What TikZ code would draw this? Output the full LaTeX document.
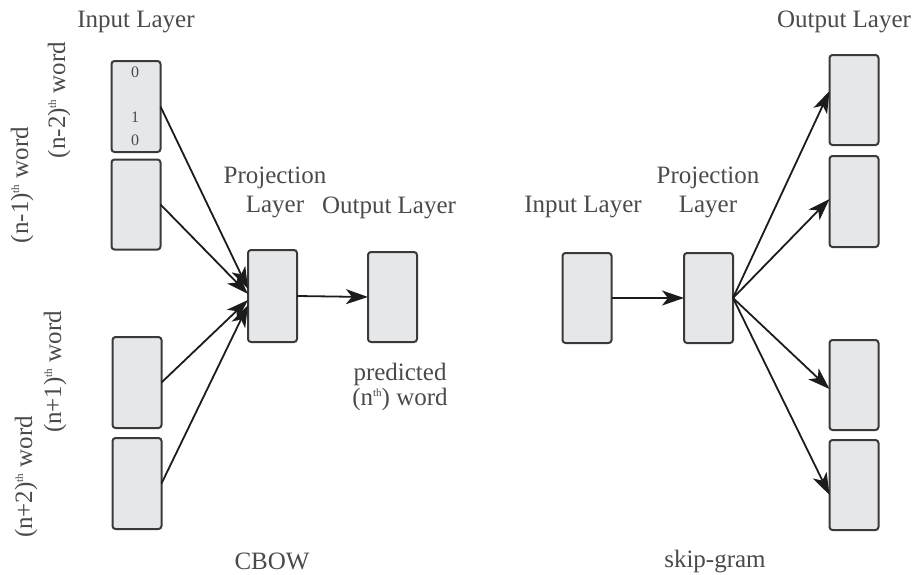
\documentclass[tikz,border=0pt]{standalone}
\usepackage{fontspec}
\setmainfont{Liberation Serif}
\usetikzlibrary{arrows.meta}
\definecolor{txtgray}{HTML}{4A4A4A}
\definecolor{boxfill}{HTML}{E6E7E8}
\definecolor{boxline}{HTML}{3A3A3A}
\definecolor{arrowcol}{HTML}{1C1C1C}
\newcommand{\thsup}{\raisebox{9pt}{\fontsize{11}{11}\selectfont th}}
\tikzset{
  lbl/.style={font=\fontsize{25}{30}\selectfont, text=txtgray, inner sep=0pt},
  small/.style={font=\fontsize{16}{18}\selectfont, text=txtgray, inner sep=0pt},
  vec/.style={draw=boxline, fill=boxfill, line width=2pt, rounded corners=3pt,
    minimum width=49pt, minimum height=90pt, inner sep=0pt, outer sep=0pt},
  conn/.style={draw=arrowcol, line width=1.8pt, -{Stealth[length=22pt,width=15pt,inset=6pt]}},
}
\begin{document}
\begin{tikzpicture}[x=1pt,y=-1pt]
\useasboundingbox (0,0) rectangle (916,574);
% ---------------- CBOW ----------------
\node[vec, minimum height=91pt] (in1) at (136,106.5) {};
\node[vec] (in2) at (136,204.5) {};
\node[vec, minimum height=91pt] (in3) at (137,382.5) {};
\node[vec, minimum height=91pt] (in4) at (137,483.5) {};
\node[vec, minimum height=92pt] (proj) at (272.5,296) {};
\node[vec] (out) at (392.5,297) {};

\node[small] (d0) at (135,72) {0};
\node[small] (d1) at (135,117) {1};
\node[small] (d2) at (135,140) {0};

\node[lbl, anchor=base] (inlab) at (136,27) {Input Layer};
\node[lbl, anchor=base] (projlabA) at (275,183) {Projection};
\node[lbl, anchor=base] (projlabB) at (275,212) {Layer};
\node[lbl, anchor=base] (outlab) at (389,213) {Output Layer};
\node[lbl, anchor=base] (predA) at (400,380) {predicted};
\node[lbl, anchor=base] (predB) at (400,405) {(n\thsup) word};
\node[lbl, anchor=base] (cbow) at (272,569) {CBOW};

\node[lbl, rotate=90] (w1) at (59,100) {(n-2)\thsup\ word};
\node[lbl, rotate=90] (w2) at (22,185) {(n-1)\thsup\ word};
\node[lbl, rotate=90] (w3) at (55,372) {(n+1)\thsup\ word};
\node[lbl, rotate=90] (w4) at (26,477) {(n+2)\thsup\ word};

\draw[conn] (in1.east) -- ([yshift=7pt]proj.west);
\draw[conn] (in2.east) -- ([yshift=2pt]proj.west);
\draw[conn] (in3.east) -- ([yshift=-4pt]proj.west);
\draw[conn] (in4.east) -- ([yshift=-9pt]proj.west);
\draw[conn] (proj.east) -- (out.west);

% ---------------- skip-gram ----------------
\node[vec] (sin) at (587,298) {};
\node[vec] (sproj) at (708.5,298) {};
\node[vec] (o1) at (854,100) {};
\node[vec, minimum height=91pt] (o2) at (854,201.5) {};
\node[vec] (o3) at (854,385) {};
\node[vec] (o4) at (854,485) {};

\node[lbl, anchor=base] (sinlab) at (583,212) {Input Layer};
\node[lbl, anchor=base] (sprojA) at (708,183) {Projection};
\node[lbl, anchor=base] (sprojB) at (708,212) {Layer};
\node[lbl, anchor=base] (soutlab) at (844,27) {Output Layer};
\node[lbl, anchor=base] (sg) at (715,567) {skip-gram};

\draw[conn] (sin.east) -- (sproj.west);
\draw[conn] (sproj.east) -- ([yshift=9pt]o1.west);
\draw[conn] (sproj.east) -- ([yshift=2.5pt]o2.west);
\draw[conn] (sproj.east) -- ([yshift=-4pt]o3.west);
\draw[conn] (sproj.east) -- ([yshift=-10pt]o4.west);
\end{tikzpicture}
\end{document}
